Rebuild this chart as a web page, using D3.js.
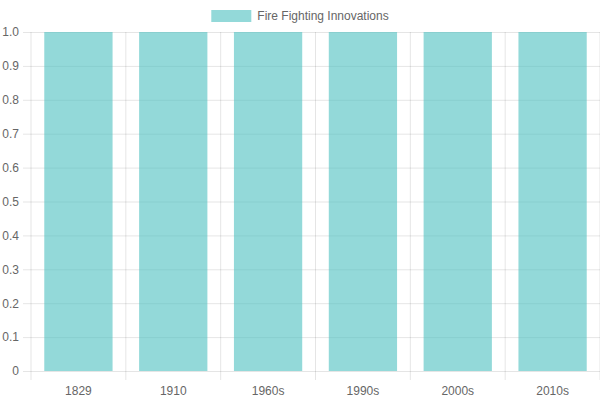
<!DOCTYPE html>
<html>
<head>
<meta charset="utf-8">
<script src="https://cdn.jsdelivr.net/npm/d3@7"></script>
<style>
  body { margin: 0; background: #fff; }
  svg { display: block; font-family: "Liberation Sans", Arial, sans-serif; }
</style>
</head>
<body>
<div id="chart"></div>
<script>
// chart data
var categories = ['1829', '1910', '1960s', '1990s', '2000s', '2010s'];
var values = [1, 1, 1, 1, 1, 1];
var seriesName = 'Fire Fighting Innovations';
var yTicks = [0, 0.1, 0.2, 0.3, 0.4, 0.5, 0.6, 0.7, 0.8, 0.9, 1.0];

var width = 600,
    height = 400,
    margin = { left: 31, top: 32, right: 0, bottom: 29 };

var barColor = 'rgba(75, 192, 192, 0.6)',
    gridColor = 'rgba(0, 0, 0, 0.1)',
    textColor = '#666';

var svg = d3.select('#chart').append('svg')
    .attr('width', width)
    .attr('height', height);

var x = d3.scaleBand()
    .domain(categories)
    .range([margin.left, width - margin.right]);

var y = d3.scaleLinear()
    .domain([0, 1])
    .range([height - margin.bottom, margin.top]);

// horizontal grid + left ticks
var yAxis = svg.append('g')
    .attr('transform', 'translate(' + margin.left + ',0)')
    .call(d3.axisLeft(y)
        .tickValues(yTicks)
        .tickSize(8)
        .tickPadding(4)
        .tickFormat(function (d) { return d === 0 ? '0' : d3.format('.1f')(d); }));
yAxis.select('.domain').remove();
yAxis.selectAll('.tick line')
    .attr('stroke', gridColor)
    .attr('x2', width - margin.left - margin.right)
    .attr('x1', -8);
yAxis.selectAll('.tick text')
    .attr('x', -12)
    .attr('fill', textColor)
    .style('font-size', '12px');

// vertical grid lines at category boundaries
var bounds = categories.map(function (c) { return x(c); }).concat([width - margin.right]);
svg.append('g').selectAll('line')
    .data(bounds)
    .enter().append('line')
    .attr('x1', function (d) { return d; })
    .attr('x2', function (d) { return d; })
    .attr('y1', margin.top)
    .attr('y2', height - margin.bottom + 9)
    .attr('stroke', gridColor);

// x labels
var xAxis = svg.append('g')
    .attr('transform', 'translate(0,' + (height - margin.bottom) + ')')
    .call(d3.axisBottom(x).tickSize(0).tickPadding(15));
xAxis.select('.domain').remove();
xAxis.selectAll('.tick text')
    .attr('fill', textColor)
    .style('font-size', '12px');

// bars
var inner = x.bandwidth() * 0.72;
svg.append('g').selectAll('rect')
    .data(values)
    .enter().append('rect')
    .attr('x', function (d, i) { return x(categories[i]) + (x.bandwidth() - inner) / 2; })
    .attr('width', inner)
    .attr('y', function (d) { return y(d); })
    .attr('height', function (d) { return y(0) - y(d); })
    .attr('fill', barColor);

// legend
var legend = svg.append('g');
var legendText = legend.append('text')
    .attr('y', 16)
    .attr('dy', '0.35em')
    .attr('fill', textColor)
    .style('font-size', '12px')
    .text(seriesName);
var tw = legendText.node().getComputedTextLength();
var lx = (width - (40 + 6 + tw)) / 2;
legend.append('rect')
    .attr('x', lx)
    .attr('y', 10)
    .attr('width', 40)
    .attr('height', 12)
    .attr('fill', barColor);
legendText.attr('x', lx + 46);
</script>
</body>
</html>
